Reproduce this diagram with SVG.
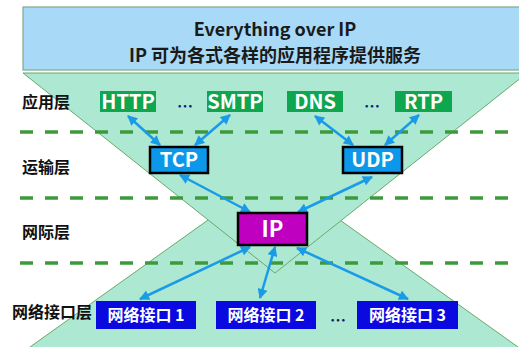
<svg xmlns="http://www.w3.org/2000/svg" width="519" height="347" viewBox="0 0 519 347">
<style>
text{font-family:"Noto Sans CJK SC","Noto Sans",sans-serif;font-weight:bold;text-anchor:middle}
.title{font-size:18px;fill:#1a1a1a}
.layer{font-size:16px;fill:#111;text-anchor:start}
.app rect{fill:#0fa650}
.app text{font-size:20px;fill:#fff}
.tr rect{fill:#0c98ea;stroke:#000;stroke-width:2.5}
.tr text{font-size:20px;fill:#fff}
.ip rect{fill:#c000c0;stroke:#000;stroke-width:2.5}
.ip text{font-size:22px;fill:#fff}
.net rect{fill:#0a0ae0}
.net text{font-size:16px;fill:#fff}
.dots{font-size:16px;fill:#0a1a7a}
.dash{stroke:#3c9a3c;stroke-width:3.5;stroke-dasharray:13 12;fill:none}
.arr{stroke:#1a9be8;stroke-width:2.5;fill:none;marker-start:url(#ah);marker-end:url(#ah)}
</style>
<defs>
<marker id="ah" viewBox="0 0 10 10" refX="9" refY="5" markerWidth="11" markerHeight="10" markerUnits="userSpaceOnUse" orient="auto-start-reverse">
<path d="M0,0 L10,5 L0,10 Z" fill="#1a9be8"/>
</marker>
</defs>
<rect width="519" height="347" fill="#fff"/>
<g id="background">
<polygon points="30,347 274,173 518,347 540,362 10,362" fill="#ade8d3" stroke="#6aa86a" stroke-width="1"/>
<polygon points="23,73 527,73 275,273" fill="#ade8d3" stroke="#6aa86a" stroke-width="1"/>
</g>
<g id="header">
<rect x="23" y="7" width="510" height="63" fill="#a8d9f6" stroke="#7fa88e" stroke-width="1.2"/>
<text class="title" x="275" y="36">Everything over IP</text>
<text class="title" x="275" y="62">IP 可为各式各样的应用程序提供服务</text>
</g>
<g id="dividers">
<line class="dash" x1="20" y1="132" x2="519" y2="132"/>
<line class="dash" x1="20" y1="198" x2="519" y2="198"/>
<line class="dash" x1="20" y1="263" x2="519" y2="263"/>
</g>
<g id="layer-labels">
<text class="layer" x="22" y="108">应用层</text>
<text class="layer" x="22" y="173">运输层</text>
<text class="layer" x="22" y="238">网际层</text>
<text class="layer" x="12" y="318">网络接口层</text>
</g>
<g id="connectors">
<line class="arr" x1="160" y1="145" x2="128" y2="116"/>
<line class="arr" x1="195" y1="145" x2="230" y2="115"/>
<line class="arr" x1="353" y1="145" x2="315" y2="116"/>
<line class="arr" x1="385" y1="145" x2="419" y2="115"/>
<line class="arr" x1="250" y1="212" x2="180" y2="175"/>
<line class="arr" x1="298" y1="212" x2="372" y2="177"/>
<line class="arr" x1="250" y1="247" x2="140" y2="299"/>
<line class="arr" x1="275" y1="247" x2="260" y2="298"/>
<line class="arr" x1="297" y1="248" x2="408" y2="299"/>
</g>
<g id="http" class="app"><rect x="100" y="91" width="56" height="21"/><text x="128" y="108.5">HTTP</text></g>
<g id="smtp" class="app"><rect x="207" y="91" width="56" height="21"/><text x="235" y="108.5">SMTP</text></g>
<g id="dns" class="app"><rect x="287" y="91" width="56" height="21"/><text x="315" y="108.5">DNS</text></g>
<g id="rtp" class="app"><rect x="395" y="91" width="57" height="21"/><text x="423.5" y="108.5">RTP</text></g>
<g id="app-dots"><text class="dots" x="185" y="112">…</text><text class="dots" x="372" y="112">…</text></g>
<g id="tcp" class="tr"><rect x="150" y="147" width="58" height="26"/><text x="179" y="167">TCP</text></g>
<g id="udp" class="tr"><rect x="343" y="147" width="59" height="26"/><text x="372.5" y="167">UDP</text></g>
<g id="ip" class="ip"><rect x="238" y="213" width="69" height="32"/><text x="272.5" y="237">IP</text></g>
<g id="if1" class="net"><rect x="96" y="301" width="100" height="28"/><text x="146" y="321">网络接口 1</text></g>
<g id="if2" class="net"><rect x="216" y="301" width="100" height="28"/><text x="266" y="321">网络接口 2</text></g>
<g id="if3" class="net"><rect x="357" y="301" width="101" height="28"/><text x="407.5" y="321">网络接口 3</text></g>
<g id="net-dots"><text class="dots" x="338" y="326" style="fill:#0a1a5a">…</text></g>
</svg>
